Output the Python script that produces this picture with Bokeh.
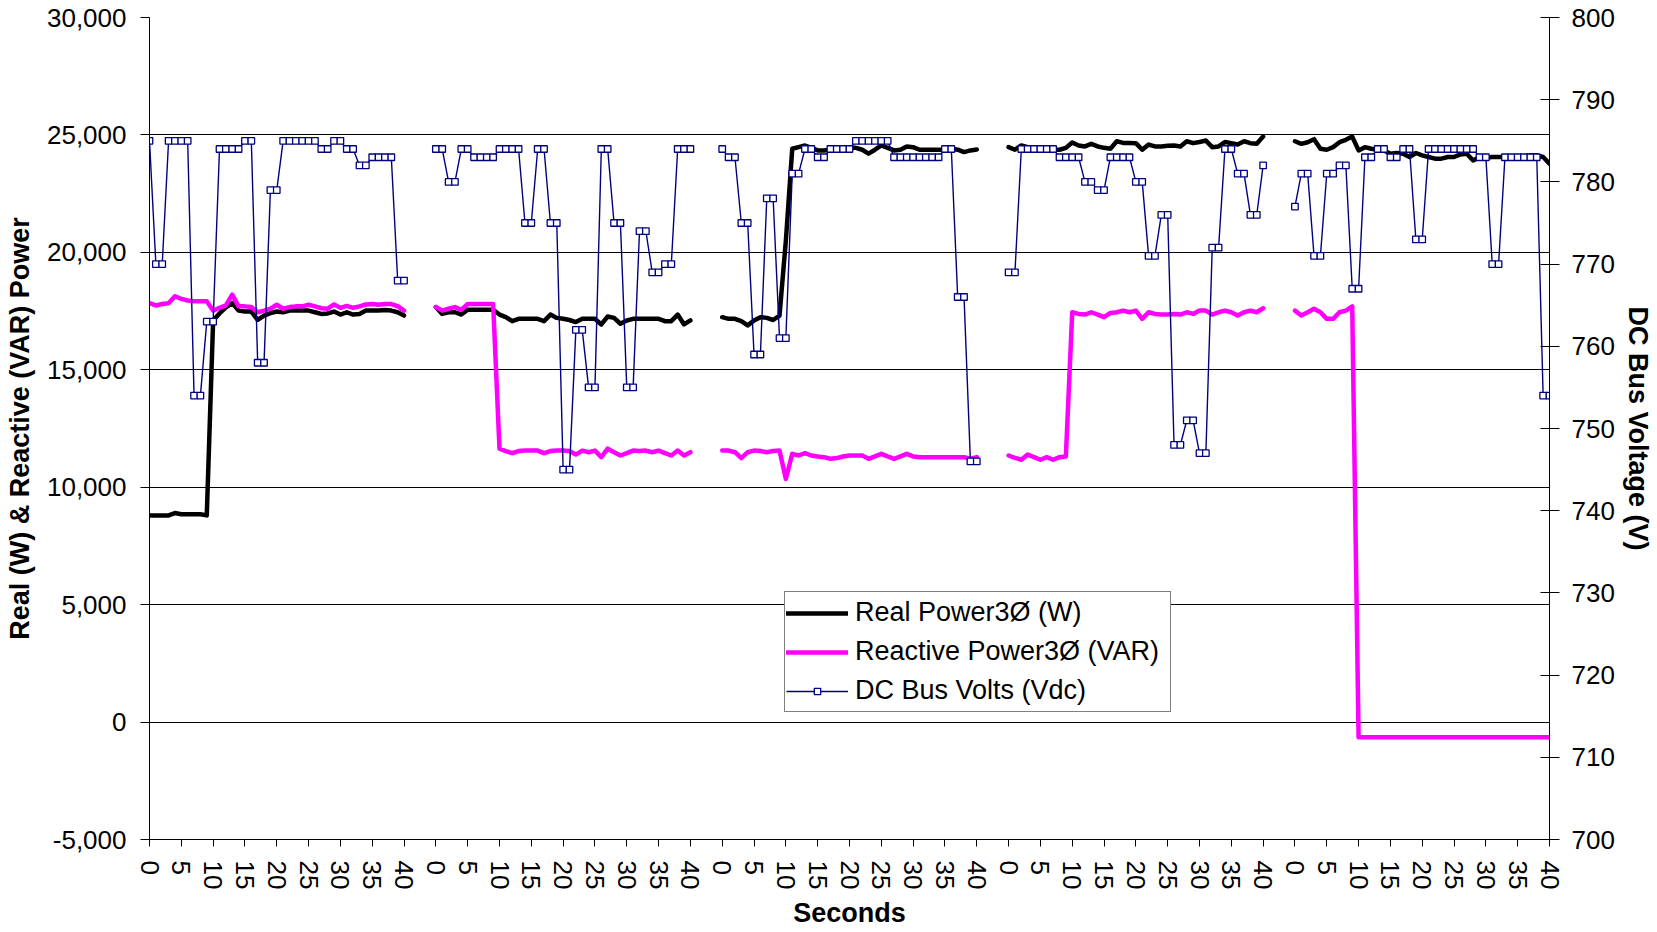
import numpy as np
from bokeh.plotting import figure
from bokeh.models import (Range1d, LinearAxis, FixedTicker, NumeralTickFormatter,
                          Legend, LegendItem)
from bokeh.embed import file_html
from bokeh.resources import INLINE

# ---------------- data ----------------
RUN_SPAN = 45                       # categories per run (41 seconds + gap)
seconds = list(range(41))
tick_seconds = [0, 5, 10, 15, 20, 25, 30, 35, 40]
tick_labels = ["0", "5", "10", "15", "20", "25", "30", "35", "40"]
power_ticks = [-5000, 0, 5000, 10000, 15000, 20000, 25000, 30000]
volt_ticks = [700, 710, 720, 730, 740, 750, 760, 770, 780, 790, 800]

real_run1 = [8800, 8800, 8800, 8800, 8900, 8850, 8850, 8850, 8850, 8800,
             17100, 17400, 17660, 17840, 17520, 17480, 17480, 17130, 17310, 17410,
             17480, 17450, 17520, 17520, 17520, 17520, 17450, 17380, 17400, 17480,
             17350, 17450, 17350, 17380, 17520, 17520, 17520, 17550, 17520, 17450, 17310]
real_run2 = [17670, 17380, 17450, 17450, 17350, 17560, 17560, 17560, 17560, 17560,
             17350, 17240, 17070, 17170, 17170, 17170, 17170, 17070, 17350, 17210,
             17170, 17120, 17030, 17170, 17170, 17170, 16930, 17270, 17210, 16960,
             17100, 17170, 17170, 17170, 17170, 17170, 17070, 17070, 17350, 16930, 17100]
real_run3 = [17240, 17170, 17170, 17070, 16890, 17100, 17240, 17210, 17120, 17310,
             20500, 24410, 24480, 24550, 24450, 24340, 24340, 24370, 24410, 24450,
             24450, 24450, 24370, 24200, 24370, 24550, 24450, 24340, 24370, 24510,
             24480, 24370, 24370, 24370, 24370, 24370, 24410, 24370, 24270, 24340, 24380]
real_run4 = [24480, 24370, 24550, 24480, 24410, 24370, 24340, 24370, 24370, 24450,
             24680, 24550, 24510, 24620, 24510, 24450, 24410, 24730, 24660, 24660,
             24650, 24370, 24590, 24510, 24510, 24540, 24550, 24510, 24730, 24650,
             24700, 24760, 24480, 24510, 24700, 24650, 24590, 24730, 24650, 24620, 24930]
real_run5 = [24730, 24620, 24690, 24820, 24410, 24370, 24480, 24690, 24790, 24930,
             24340, 24480, 24410, 24370, 24340, 24200, 24230, 24200, 24060, 24230,
             24130, 24060, 23990, 23990, 24060, 24060, 24170, 24200, 23910, 24060,
             24030, 24060, 24060, 24060, 24090, 24090, 24090, 24130, 24130, 24060, 23770]

reactive_run1 = [17840, 17740, 17800, 17830, 18130, 18020, 17950, 17920, 17920, 17920,
                 17520, 17640, 17740, 18200, 17700, 17700, 17670, 17450, 17520, 17600,
                 17770, 17600, 17670, 17700, 17700, 17770, 17700, 17620, 17600, 17780,
                 17640, 17720, 17640, 17700, 17780, 17800, 17770, 17800, 17800, 17710, 17520]
reactive_run2 = [17670, 17520, 17600, 17670, 17550, 17800, 17800, 17800, 17800, 17800,
                 11640, 11540, 11450, 11540, 11560, 11560, 11560, 11450, 11540, 11560,
                 11560, 11540, 11390, 11560, 11490, 11560, 11280, 11640, 11490, 11350,
                 11450, 11560, 11540, 11560, 11490, 11560, 11450, 11350, 11560, 11350, 11490]
reactive_run3 = [11560, 11560, 11490, 11240, 11490, 11560, 11540, 11490, 11540, 11560,
                 10350, 11420, 11350, 11450, 11350, 11310, 11280, 11210, 11240, 11310,
                 11350, 11350, 11350, 11210, 11310, 11420, 11310, 11210, 11310, 11420,
                 11310, 11280, 11280, 11280, 11280, 11280, 11280, 11280, 11280, 11210, 11280]
reactive_run4 = [11350, 11250, 11170, 11390, 11280, 11170, 11280, 11170, 11280, 11310,
                 17450, 17380, 17350, 17450, 17350, 17240, 17420, 17450, 17520, 17450,
                 17520, 17170, 17450, 17380, 17350, 17350, 17380, 17350, 17450, 17380,
                 17520, 17520, 17350, 17450, 17520, 17450, 17310, 17450, 17520, 17450, 17620]
reactive_run5 = [17520, 17310, 17450, 17600, 17450, 17170, 17170, 17450, 17520, 17700,
                 -650, -650, -650, -650, -650, -650, -650, -650, -650, -650,
                 -650, -650, -650, -650, -650, -650, -650, -650, -650, -650,
                 -650, -650, -650, -650, -650, -650, -650, -650, -650, -650, -650]

volts_run1 = [785, 770, 770, 785, 785, 785, 785, 754, 754, 763,
              763, 784, 784, 784, 784, 785, 785, 758, 758, 779,
              779, 785, 785, 785, 785, 785, 785, 784, 784, 785,
              785, 784, 784, 782, 782, 783, 783, 783, 783, 768, 768]
volts_run2 = [784, 784, 780, 780, 784, 784, 783, 783, 783, 783,
              784, 784, 784, 784, 775, 775, 784, 784, 775, 775,
              745, 745, 762, 762, 755, 755, 784, 784, 775, 775,
              755, 755, 774, 774, 769, 769, 770, 770, 784, 784, 784]
volts_run3 = [784, 783, 783, 775, 775, 759, 759, 778, 778, 761,
              761, 781, 781, 784, 784, 783, 783, 784, 784, 784,
              784, 785, 785, 785, 785, 785, 785, 783, 783, 783,
              783, 783, 783, 783, 783, 784, 784, 766, 766, 746, 746]
volts_run4 = [769, 769, 784, 784, 784, 784, 784, 784, 783, 783,
              783, 783, 780, 780, 779, 779, 783, 783, 783, 783,
              780, 780, 771, 771, 776, 776, 748, 748, 751, 751,
              747, 747, 772, 772, 784, 784, 781, 781, 776, 776, 782]
volts_run5 = [777, 781, 781, 771, 771, 781, 781, 782, 782, 767,
              767, 783, 783, 784, 784, 783, 783, 784, 784, 773,
              773, 784, 784, 784, 784, 784, 784, 784, 784, 783,
              783, 770, 770, 783, 783, 783, 783, 783, 783, 754, 754]

real_runs = [real_run1, real_run2, real_run3, real_run4, real_run5]
reactive_runs = [reactive_run1, reactive_run2, reactive_run3, reactive_run4, reactive_run5]
volts_runs = [volts_run1, volts_run2, volts_run3, volts_run4, volts_run5]


def join_runs(runs):
    xs, ys = [], []
    for i, run in enumerate(runs):
        if i:
            xs.append(np.nan)
            ys.append(np.nan)
        xs.extend(i * RUN_SPAN + t for t in seconds)
        ys.extend(run)
    return np.array(xs, dtype=float), np.array(ys, dtype=float)


x_real, y_real = join_runs(real_runs)
x_react, y_react = join_runs(reactive_runs)
x_volt, y_volt = join_runs(volts_runs)

n_runs = len(real_runs)
x_ticks = [i * RUN_SPAN + s for i in range(n_runs) for s in tick_seconds]
x_tick_text = {i * RUN_SPAN + s: lab for i in range(n_runs)
               for s, lab in zip(tick_seconds, tick_labels)}

FONT = "Liberation Sans"
TICK_SIZE = "26px"
TITLE_SIZE = "27px"

# ---------------- figure ----------------
p = figure(width=1657, height=932,
           x_range=Range1d(0, (n_runs - 1) * RUN_SPAN + seconds[-1]),
           y_range=Range1d(power_ticks[0], power_ticks[-1]),
           output_backend="svg", toolbar_location=None,
           min_border_left=149, min_border_right=108,
           min_border_top=17, min_border_bottom=93)
p.extra_y_ranges = {"volts": Range1d(volt_ticks[0], volt_ticks[-1])}
p.outline_line_color = None
p.background_fill_color = "white"
p.border_fill_color = "white"

# left axis
ya = p.yaxis[0]
ya.ticker = FixedTicker(ticks=power_ticks)
ya.formatter = NumeralTickFormatter(format="0,0")
ya.major_tick_out = 9
ya.major_tick_in = 0
ya.minor_tick_line_color = None
ya.major_label_standoff = 14
ya.major_label_text_font = FONT
ya.major_label_text_font_size = TICK_SIZE
ya.major_label_text_color = "black"
ya.axis_line_color = "black"
ya.major_tick_line_color = "black"
ya.axis_label = "Real (W) & Reactive (VAR) Power"
ya.axis_label_text_font = FONT
ya.axis_label_text_font_size = TITLE_SIZE
ya.axis_label_text_font_style = "bold"
ya.axis_label_text_color = "black"
ya.axis_label_standoff = 9

# bottom axis
xa = p.xaxis[0]
xa.ticker = FixedTicker(ticks=x_ticks)
xa.major_label_overrides = x_tick_text
xa.major_label_orientation = "vertical"
xa.major_tick_out = 7
xa.major_tick_in = 0
xa.minor_tick_line_color = None
xa.major_label_standoff = 14
xa.major_label_text_font = FONT
xa.major_label_text_font_size = TICK_SIZE
xa.major_label_text_color = "black"
xa.axis_line_color = "black"
xa.major_tick_line_color = "black"
xa.axis_label = "Seconds"
xa.axis_label_text_font = FONT
xa.axis_label_text_font_size = TITLE_SIZE
xa.axis_label_text_font_style = "bold"
xa.axis_label_text_color = "black"
xa.axis_label_standoff = 6

# right axis
ra = LinearAxis(y_range_name="volts", ticker=FixedTicker(ticks=volt_ticks))
ra.major_tick_out = 10
ra.major_tick_in = 9
ra.minor_tick_line_color = None
ra.major_label_standoff = 12
ra.major_label_text_font = FONT
ra.major_label_text_font_size = TICK_SIZE
ra.major_label_text_color = "black"
ra.axis_line_color = "black"
ra.major_tick_line_color = "black"
ra.axis_label = "DC Bus Voltage (V)"
ra.axis_label_text_font = FONT
ra.axis_label_text_font_size = TITLE_SIZE
ra.axis_label_text_font_style = "bold"
ra.axis_label_text_color = "black"
ra.axis_label_standoff = 5
p.add_layout(ra, "right")

# grid
p.xgrid.grid_line_color = None
p.ygrid.ticker = FixedTicker(ticks=power_ticks)
p.ygrid.grid_line_color = "black"
p.ygrid.grid_line_width = 1

# series
r_real = p.line(x_real, y_real, line_color="black", line_width=4.5,
                line_join="round", line_cap="round")
r_react = p.line(x_react, y_react, line_color="#FF00FF", line_width=4.5,
                 line_join="round", line_cap="round")
r_vline = p.line(x_volt, y_volt, y_range_name="volts", line_color="#000080",
                 line_width=1.4)
r_vpts = p.scatter(x_volt, y_volt, y_range_name="volts", marker="square", size=6.5,
                   line_color="#000080", fill_color="white", line_width=1.3)

legend = Legend(items=[
    LegendItem(label="Real Power3Ø (W)", renderers=[r_real]),
    LegendItem(label="Reactive Power3Ø (VAR)", renderers=[r_react]),
    LegendItem(label="DC Bus Volts (Vdc)", renderers=[r_vline, r_vpts]),
], location=(635, 127))
legend.border_line_color = "black"
legend.border_line_width = 1
legend.background_fill_color = "white"
legend.background_fill_alpha = 1
legend.padding = 1
legend.spacing = 0
legend.margin = 0
legend.glyph_width = 62
legend.glyph_height = 16
legend.label_height = 39
legend.label_width = 314
legend.label_standoff = 7
legend.label_text_font = FONT
legend.label_text_font_size = "27px"
legend.label_text_color = "black"
p.add_layout(legend)

open("out.html", "w").write(file_html(p, INLINE))
